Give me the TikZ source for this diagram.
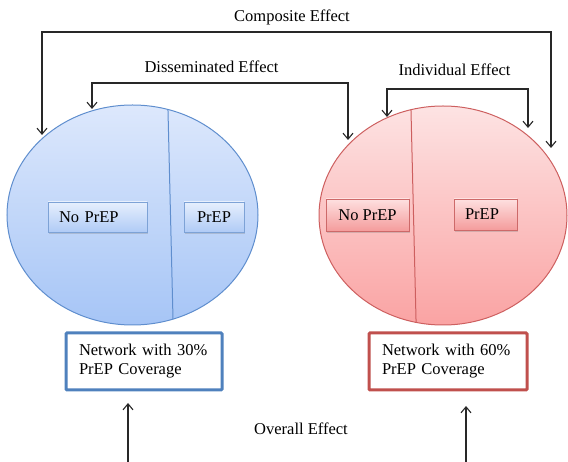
\documentclass[tikz,border=0pt]{standalone}
\usepackage{fontspec}
\setmainfont{Liberation Serif}
\usetikzlibrary{arrows.meta,shapes.geometric,shadows}

\definecolor{ellBlueTop}{RGB}{221,232,252}
\definecolor{ellBlueBot}{RGB}{166,197,246}
\definecolor{ellBlueLine}{RGB}{95,142,206}
\definecolor{ellRedTop}{RGB}{253,227,227}
\definecolor{ellRedBot}{RGB}{250,163,163}
\definecolor{ellRedLine}{RGB}{205,95,95}
\definecolor{boxBlueTop}{RGB}{230,239,253}
\definecolor{boxBlueBot}{RGB}{176,203,246}
\definecolor{boxBlueLine}{RGB}{125,162,214}
\definecolor{boxRedTop}{RGB}{254,224,224}
\definecolor{boxRedBot}{RGB}{244,156,156}
\definecolor{boxRedLine}{RGB}{205,105,105}
\definecolor{frameBlue}{RGB}{79,129,189}
\definecolor{frameRed}{RGB}{192,80,77}
\definecolor{arrowInk}{RGB}{40,40,40}

\begin{document}
\begin{tikzpicture}[x=1pt,y=-1pt,
  font=\fontsize{16.5}{19}\selectfont,
  network/.style={ellipse,inner sep=0pt,outer sep=0pt,line width=1pt},
  netblue/.style={network,draw=ellBlueLine,top color=ellBlueTop,bottom color=ellBlueBot},
  netred/.style={network,draw=ellRedLine,top color=ellRedTop,bottom color=ellRedBot},
  groupbox/.style={rectangle,inner sep=0pt,line width=0.8pt,
    drop shadow={shadow xshift=1pt,shadow yshift=-2pt,opacity=0.3}},
  groupblue/.style={groupbox,draw=boxBlueLine,top color=boxBlueTop,bottom color=boxBlueBot},
  groupred/.style={groupbox,draw=boxRedLine,top color=boxRedTop,bottom color=boxRedBot},
  coverage/.style={rectangle,fill=white,line width=3pt,rounded corners=1pt,
    align=left,inner sep=0pt,minimum height=57pt},
  effect/.style={draw=arrowInk,line width=1.1pt,
    arrows={Straight Barb[length=6pt,width=10pt]-Straight Barb[length=6pt,width=10pt]}},
  effectup/.style={draw=arrowInk,line width=1.1pt,-{Straight Barb[length=6pt,width=10pt]}},
  effectlabel/.style={inner sep=0pt}
]
\useasboundingbox (0,0) rectangle (568,462);

% the two networks
\node[netblue,minimum width=251pt,minimum height=220pt] (netA) at (132.5,215) {};
\node[netred,minimum width=248pt,minimum height=219pt] (netB) at (443,215.5) {};

% split of each network into No PrEP / PrEP parts
\begin{scope}
  \clip (132.5,215) ellipse [x radius=125.5, y radius=110];
  \draw[ellBlueLine,line width=1pt] (167.5,90) -- (173.5,340);
\end{scope}
\begin{scope}
  \clip (443,215.5) ellipse [x radius=124, y radius=109.5];
  \draw[ellRedLine,line width=1pt] (410.5,90) -- (416.5,340);
\end{scope}

% groups inside the networks
\node[groupblue,minimum width=99pt,minimum height=30pt,text width=77pt,align=left] (noA) at (97.5,217) {No PrEP};
\node[groupblue,minimum width=60pt,minimum height=30pt] (prA) at (214,217) {PrEP};
\node[groupred,minimum width=83pt,minimum height=32pt] (noB) at (367.5,215) {No PrEP};
\node[groupred,minimum width=63pt,minimum height=31pt,text width=41pt,align=left] (prB) at (485.5,214.5) {PrEP};

% coverage captions
\node[coverage,draw=frameBlue,minimum width=156pt,text width=130pt] (covA) at (144,361.5)
  {Network with 30\%\\PrEP Coverage};
\node[coverage,draw=frameRed,minimum width=158pt,text width=132pt] (covB) at (448,361.5)
  {Network with 60\%\\PrEP Coverage};

% effect labels
\node[effectlabel] (lblComp) at (292,17) {Composite Effect};
\node[effectlabel] (lblDiss) at (211.5,67) {Disseminated Effect};
\node[effectlabel] (lblInd) at (454.5,69.5) {Individual Effect};
\node[effectlabel] (lblAll) at (301,428.5) {Overall Effect};

% arrow end points on the networks
\coordinate (compA) at (42,135);
\coordinate (compB) at (551,148);
\coordinate (compBar) at (0,32);
\coordinate (dissA) at (92,109);
\coordinate (dissB) at (348,140);
\coordinate (dissBar) at (0,83);
\coordinate (indA) at (387,117);
\coordinate (indB) at (528,128);
\coordinate (indBar) at (0,89);
\coordinate (allA) at (128,462);
\coordinate (allAtip) at (128,403);
\coordinate (allB) at (466,462);
\coordinate (allBtip) at (466,406);

% effect connectors
\draw[effect] (compA) -- (compA |- compBar) -- (compB |- compBar) -- (compB);
\draw[effect] (dissA) -- (dissA |- dissBar) -- (dissB |- dissBar) -- (dissB);
\draw[effect] (indA) -- (indA |- indBar) -- (indB |- indBar) -- (indB);
\draw[effectup] (allA) -- (allAtip);
\draw[effectup] (allB) -- (allBtip);
\end{tikzpicture}
\end{document}
